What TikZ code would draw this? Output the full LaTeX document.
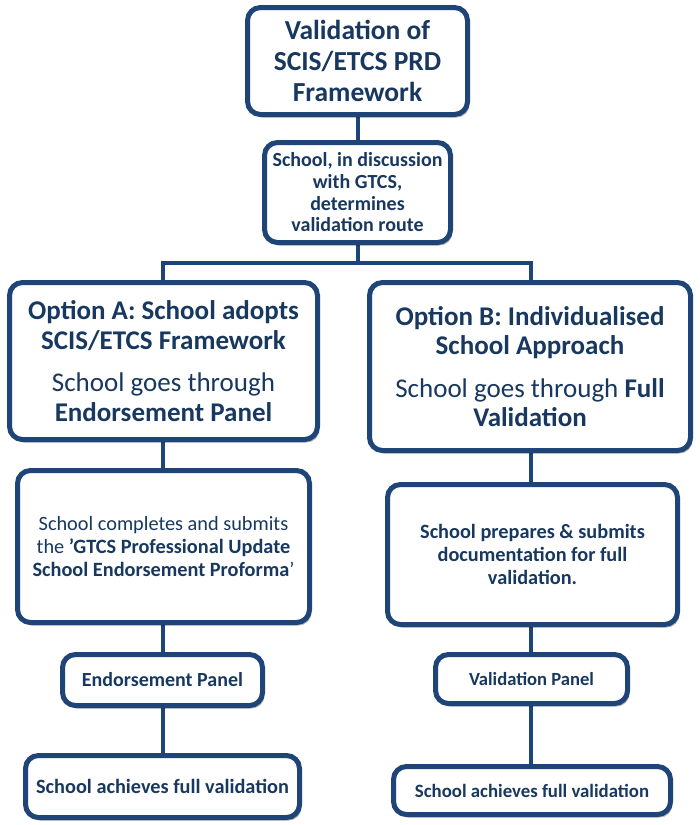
\documentclass[tikz,border=0pt]{standalone}
\usepackage{fontspec}
\setmainfont{Carlito}
\usetikzlibrary{shadows,backgrounds}
\definecolor{navy}{RGB}{31,68,120}
\definecolor{ink}{RGB}{24,56,96}
\begin{document}
\begin{tikzpicture}[x=1pt,y=-1pt,
  box/.style={draw=navy, line width=5pt, rounded corners=13pt, fill=white,
    text=ink, align=center, inner sep=0pt,
    drop shadow={shadow xshift=2pt,shadow yshift=-3pt,opacity=0.3,fill=black}},
  link/.style={draw=navy, line width=4pt, line join=miter},
  ftop/.style={font=\fontsize{27.5}{31}\selectfont\bfseries},
  fopt/.style={font=\fontsize{27}{29.5}\selectfont},
  fsub/.style={font=\fontsize{20}{21.7}\selectfont\bfseries},
  ftext/.style={font=\fontsize{20.3}{23}\selectfont},
  ftextb/.style={font=\fontsize{20.3}{23}\selectfont\bfseries}]
\useasboundingbox (0,0) rectangle (700,825);

\node[box, ftop, minimum width=220, minimum height=107] (top) at (357.5,61)
  {Validation of\\SCIS/ETCS PRD\\Framework};
\node[box, fsub, minimum width=186, minimum height=100] (box2) at (357.5,192.5)
  {School, in discussion\\with GTCS,\\determines\\validation route};
\node[box, fopt, minimum width=308, minimum height=157] (optA) at (163.5,361)
  {\textbf{Option A: School adopts}\\\textbf{SCIS/ETCS Framework}\\[13pt]School goes through\\\textbf{Endorsement Panel}};
\node[box, fopt, minimum width=321, minimum height=168] (optB) at (530,366.5)
  {\textbf{Option B: Individualised}\\\textbf{School Approach}\\[13pt]School goes through \textbf{Full}\\\textbf{Validation}};
\node[box, ftext, minimum width=292, minimum height=152] (A2) at (163.5,546.5)
  {School completes and submits\\the \textbf{'GTCS Professional Update}\\\textbf{School Endorsement Proforma}'};
\node[box, ftextb, minimum width=290, minimum height=140] (B2) at (532.5,554.5)
  {School prepares \& submits\\documentation for full\\validation.};
\node[box, font=\fontsize{20}{24}\selectfont\bfseries, minimum width=200, minimum height=51] (EP) at (162.5,680) {Endorsement Panel};
\node[box, font=\fontsize{18.6}{24}\selectfont\bfseries, minimum width=192, minimum height=49] (VP) at (531.5,679) {Validation Panel};
\node[box, font=\fontsize{20.3}{24}\selectfont\bfseries, minimum width=274, minimum height=62] (botA) at (162.5,786.5) {School achieves full validation};
\node[box, font=\fontsize{18.8}{24}\selectfont\bfseries, minimum width=277, minimum height=48] (botB) at (532,790.5) {School achieves full validation};

\coordinate (barL) at (163,263);
\coordinate (barR) at (531,263);
\begin{scope}[on background layer]
  \fill[white] (0,0) rectangle (700,825);
  \draw[link] (top.south) -- (box2.north);
  \draw[link] (box2.south) -- (box2.south |- barL);
  \draw[link] (optA.north -| barL) -- (barL) -- (barR) -- (optB.north -| barR);
  \draw[link] (optA.south -| barL) -- (A2.north -| barL);
  \draw[link] (A2.south -| barL) -- (EP.north -| barL);
  \draw[link] (EP.south -| barL) -- (botA.north -| barL);
  \draw[link] (optB.south -| barR) -- (B2.north -| barR);
  \draw[link] (B2.south -| barR) -- (VP.north -| barR);
  \draw[link] (VP.south -| barR) -- (botB.north -| barR);
\end{scope}
\end{tikzpicture}
\end{document}
